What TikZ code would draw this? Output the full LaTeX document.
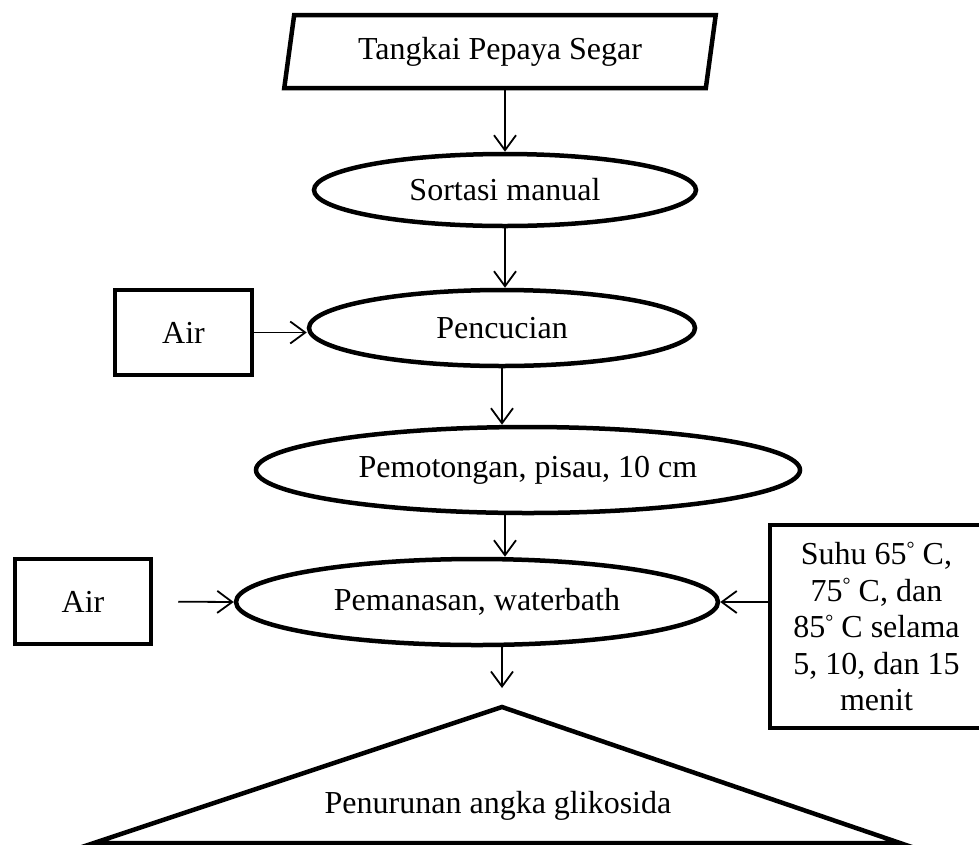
\documentclass[tikz,border=0pt]{standalone}
\usepackage{fontspec}
\setmainfont{Liberation Serif}
\usetikzlibrary{shapes.geometric,arrows.meta}
\newcommand{\dgr}{\raisebox{.3em}{\fontsize{20}{20}\selectfont °}}
\begin{document}
\begin{tikzpicture} [
  x=1pt, y=-1pt,
  proc node/.style= {ellipse,draw,line width=4.5pt,inner sep=0pt,font=\fontsize{32}{36.5}\selectfont},
  box node/.style= {rectangle,draw,line width=4.5pt,inner sep=0pt,align=center,font=\fontsize{32}{36.5}\selectfont},
  input node/.style= {trapezium,draw,line width=4.5pt,inner sep=0pt,trapezium stretches=true,
    trapezium left angle=76.8,trapezium right angle=103.2,font=\fontsize{32}{36.5}\selectfont},
  flow arrow/.style= {-{Straight Barb[length=15pt,width=22pt]},line width=1.8pt},
]
\useasboundingbox (0,0) rectangle (979,844);
\node (stalk) [input node,minimum width=432,minimum height=73] at (500,51.5) {Tangkai Pepaya Segar};
\node (sort) [proc node,minimum width=382,minimum height=72] at (505,190) {Sortasi manual};
\node (wash) [proc node,minimum width=386,minimum height=76] at (502,328) {Pencucian};
\node (cut) [proc node,minimum width=544,minimum height=86] at (528,470) {Pemotongan, pisau, 10 cm};
\node (heat) [proc node,minimum width=482,minimum height=86] at (477,602) {Pemanasan, waterbath};
\node (water1) [box node,minimum width=137,minimum height=85] at (183.5,332.5) {Air};
\node (water2) [box node,minimum width=136,minimum height=85] at (83,601.5) {Air};
\node (temp) [box node,minimum width=213,minimum height=203] at (876.5,626.5)
  {Suhu 65\dgr\ C,\\75\dgr\ C, dan\\85\dgr\ C selama\\5, 10, dan 15\\menit};
% hasil
\coordinate (apex) at (502,707);
\draw [line width=4.5pt,line join=miter] (94,843) -- (apex) -- (900,843) -- cycle;
\node (result) [font=\fontsize{32}{36.5}\selectfont] at (498,806) {Penurunan angka glikosida};

\draw [flow arrow] (sort.north |- stalk.south) -- (sort.north);
\draw [flow arrow] (sort.south) -- (sort.south |- wash.north);
\draw [flow arrow] (wash.south) -- (wash.south |- cut.north);
\draw [flow arrow] (sort.south |- cut.south) -- (sort.south |- heat.north);
\draw [flow arrow,shorten >=19pt] (apex |- heat.south) -- (apex);
\draw [flow arrow] (water1.east) -- (water1.east -| wash.west);
\draw [flow arrow,shorten <=25pt] (water2.east) -- (heat.west);
\draw [flow arrow] (temp.west |- heat.east) -- (heat.east);
\end{tikzpicture}
\end{document}
